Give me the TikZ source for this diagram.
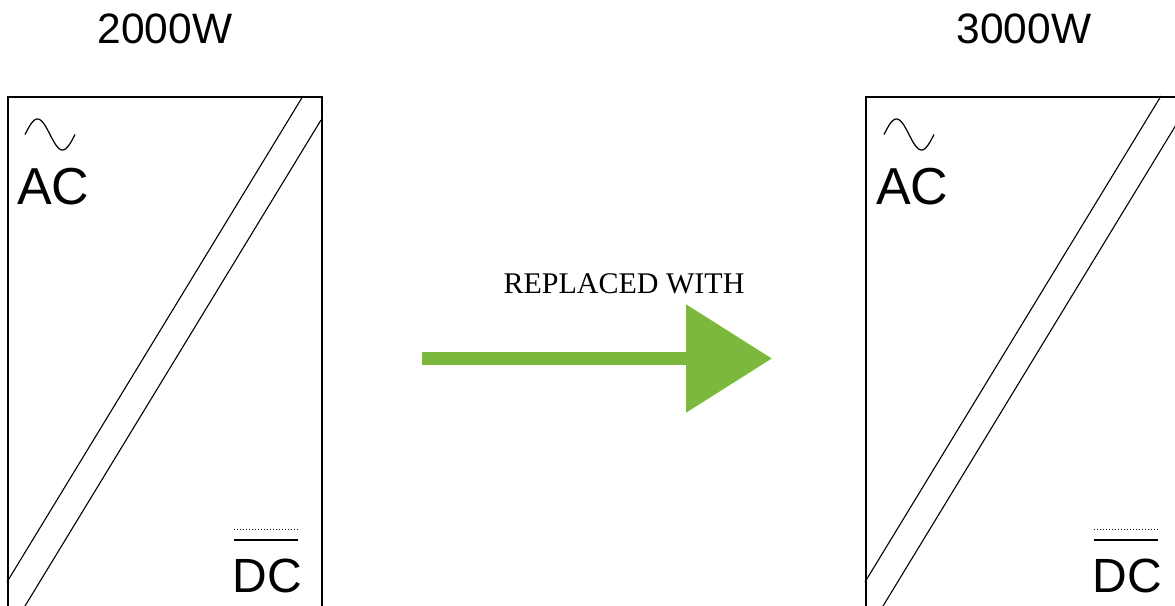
\documentclass[tikz,border=0pt]{standalone}
\usepackage{fontspec}
\setmainfont{Liberation Serif}
\newfontfamily\helv{Liberation Sans}
\usetikzlibrary{arrows.meta}
\definecolor{arrowgreen}{RGB}{124,184,61}
\tikzset{
  unitbox/.style={draw=black, line width=1.5pt, minimum width=314pt, minimum height=700pt, anchor=north west, inner sep=0pt},
  diag/.style={draw=black, line width=1.1pt},
  actxt/.style={font=\helv\fontsize{52}{52}\selectfont, inner sep=0pt},
  dctxt/.style={font=\helv\fontsize{48}{48}\selectfont, inner sep=0pt},
  titletxt/.style={font=\helv\fontsize{42.5}{42.5}\selectfont, inner sep=0pt, anchor=base},
  captxt/.style={font=\fontsize{30}{30}\selectfont, inner sep=0pt, anchor=base},
  sinewave/.style={draw=black, line width=1.2pt},
  bigarrow/.style={draw=arrowgreen, line width=13pt, -{Triangle[length=86pt,width=105pt]}},
}
\begin{document}
\begin{tikzpicture}[x=1pt,y=-1pt]
\useasboundingbox (0,0) rectangle (1175,605);
\clip (0,0) rectangle (1175,605);
\fill[white] (0,0) rectangle (1175,605);
% left unit
\begin{scope}[shift={(7,96)}]
  \node[unitbox] (boxL) at (0,0) {};
  \draw[diag] (296,0) -- (0,486);
  \draw[diag] (314,24) -- (0,539.6);
  \draw[sinewave] plot[domain=0:360, samples=60, smooth] ({18+\x/360*50}, {38.5-15.5*sin(\x)});
  \node[actxt, anchor=base west] (acL) at (10,108) {AC};
  \draw[line width=1.2pt] (227,444) -- (291,444);
  \draw[line width=1pt, dash pattern=on 1.2pt off 1.8pt] (227,433) -- (291,433);
  \node[dctxt, anchor=base east] (dcL) at (295,496) {DC};
  \node[titletxt] (tL) at (158,-53) {2000W};
\end{scope}
% right unit
\begin{scope}[shift={(865,96)}]
  \node[unitbox] (boxR) at (0,0) {};
  \draw[diag] (296,0) -- (0,486);
  \draw[diag] (314,24) -- (0,539.6);
  \draw[sinewave] plot[domain=0:360, samples=60, smooth] ({19+\x/360*50}, {38.5-15.5*sin(\x)});
  \node[actxt, anchor=base west] (acR) at (11,108) {AC};
  \draw[line width=1.2pt] (229,444) -- (293,444);
  \draw[line width=1pt, dash pattern=on 1.2pt off 1.8pt] (229,433) -- (293,433);
  \node[dctxt, anchor=base east] (dcR) at (297,496) {DC};
  \node[titletxt] (tR) at (159,-53) {3000W};
\end{scope}
% arrow
\coordinate (arrS) at (422,358.5);
\coordinate (arrE) at (772,358.5);
\draw[bigarrow] (arrS) -- (arrE);
\node[captxt] (cap) at (624,293) {REPLACED WITH};
\end{tikzpicture}
\end{document}
